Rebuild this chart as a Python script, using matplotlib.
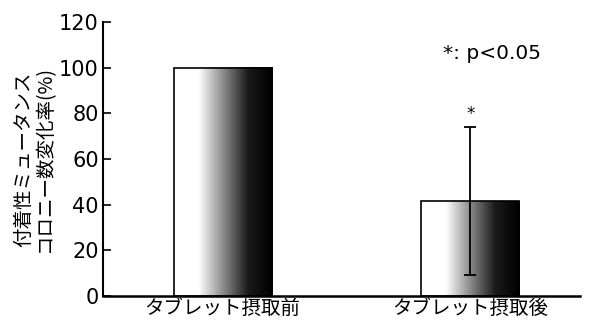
import numpy as np
import matplotlib
matplotlib.use('Agg')
import matplotlib.pyplot as plt
from matplotlib.colors import LinearSegmentedColormap

plt.rcParams['font.family'] = ['DejaVu Sans', 'Noto Sans CJK JP']
jp = ['Noto Sans CJK JP', 'DejaVu Sans']

# data
groups = ['タブレット摂取前', 'タブレット摂取後']
means = [100.0, 41.5]
errors = [None, 32.5]
yticks = [0, 20, 40, 60, 80, 100, 120]

fig = plt.figure(figsize=(5.92, 3.22), dpi=100)
ax = fig.add_axes([0.174, 0.081, 0.806, 0.851])

xpos = np.arange(len(groups))
width = 0.396

# white -> black shading across each bar
shade = LinearSegmentedColormap.from_list(
    'shade', [(0.0, 'white'), (0.25, 'white'), (0.5, '#8a8a8a'), (0.75, '#1a1a1a'), (1.0, 'black')])
grad = np.linspace(0, 1, 256).reshape(1, -1)

bars = ax.bar(xpos, means, width=width, color='none', edgecolor='black', linewidth=1.2, zorder=3)
for b in bars:
    x0, w, h = b.get_x(), b.get_width(), b.get_height()
    ax.imshow(grad, cmap=shade, aspect='auto', extent=[x0, x0 + w, 0, h],
              interpolation='bilinear', zorder=2)

# error bar on the second group only
ax.errorbar(xpos[1], means[1], yerr=errors[1], fmt='none', ecolor='black',
            elinewidth=1.3, capsize=4, capthick=1.3, zorder=4)
ax.text(xpos[1], means[1] + errors[1] + 5.5, '*', ha='center', va='center', fontsize=12)
ax.text(0.89, 106, '*: p<0.05', ha='left', va='center', fontsize=14.5)

ax.set_xlim(-0.483, 1.444)
ax.set_ylim(0, 120)
ax.set_yticks(yticks)
ax.set_xticks(xpos)
ax.set_xticklabels(groups, family=jp, fontsize=14)
ax.tick_params(axis='x', length=0, pad=2)
ax.tick_params(axis='y', direction='in', length=6, width=1.2, labelsize=15, pad=3)

ax.spines['top'].set_visible(False)
ax.spines['right'].set_visible(False)
ax.spines['left'].set_linewidth(1.5)
ax.spines['bottom'].set_linewidth(1.8)

ax.set_ylabel('付着性ミュータンス\nコロニー数変化率(%)', family=jp, fontsize=14,
              linespacing=0.95, labelpad=3)

fig.savefig('out.png', dpi=100)
